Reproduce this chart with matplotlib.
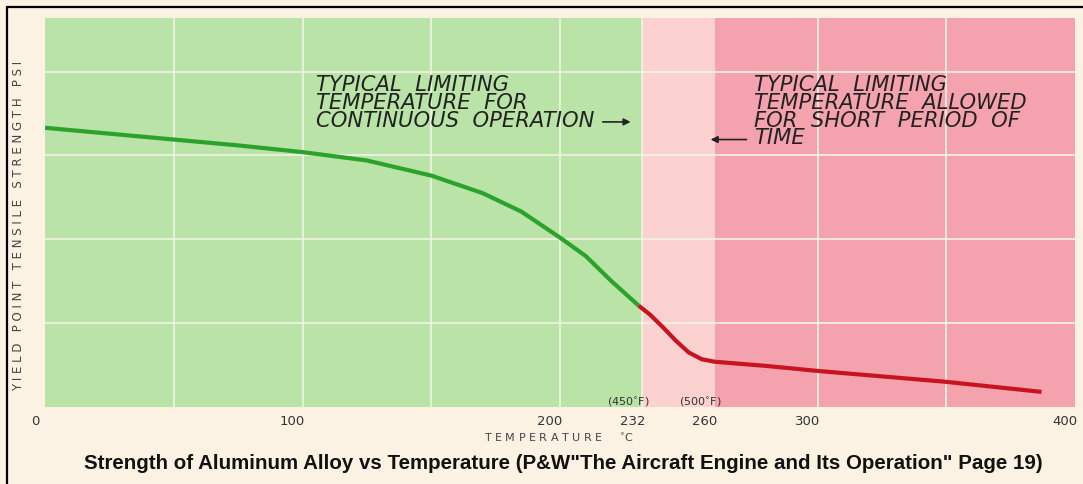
import numpy as np
import matplotlib
matplotlib.use("Agg")
import matplotlib.pyplot as plt
import matplotlib.transforms as mtransforms
from matplotlib.patches import Rectangle

# curve (temperature in C, strength in grid units)
temp_green = [0, 25, 50, 75, 100, 125, 150, 170, 185, 200, 210, 220, 230.5]
str_green = [3.33, 3.26, 3.19, 3.12, 3.04, 2.94, 2.76, 2.55, 2.33, 2.02, 1.80, 1.50, 1.21]
temp_red = [230.5, 235, 240, 245, 250, 255, 260, 280, 300, 350, 387]
str_red = [1.21, 1.10, 0.95, 0.79, 0.65, 0.57, 0.54, 0.49, 0.43, 0.30, 0.18]

zones = [(0, 232, '#b9e3a7'), (232, 260, '#fbd2d0'), (260, 400, '#f4a3ae')]
grid_x = [50, 100, 150, 200, 232, 300, 350]
grid_y = [1, 2, 3, 4]
xticks = [0, 100, 200, 232, 260, 300, 400]
xticklabels = ['0', '100', '200', '232', '260', '300', '400']
f_labels = [(232, '(450$^{\\circ}$F)'), (260, '(500$^{\\circ}$F)')]

bg = '#fcf2e4'
fig = plt.figure(figsize=(10.83, 4.85), dpi=100, facecolor=bg)
ax = fig.add_axes([0.0416, 0.1588, 0.9510, 0.8021])
ax.set_facecolor(bg)

for a, b, c in zones:
    ax.axvspan(a, b, color=c, lw=0, zorder=0)
for gx in grid_x:
    ax.axvline(gx, color='#f1f4e4', lw=1.2, zorder=1)
for gy in grid_y:
    ax.axhline(gy, color='#f1f4e4', lw=1.2, zorder=1)

ax.plot(temp_green, str_green, color='#2ba32b', lw=3.0, solid_capstyle='butt', zorder=3)
ax.plot(temp_red, str_red, color='#c8141e', lw=3.0, solid_capstyle='butt', zorder=3)

ax.set_xlim(0, 400)
ax.set_ylim(0, 4.64)
for s in ax.spines.values():
    s.set_visible(False)
ax.set_yticks([])
ax.set_xticks(xticks)
ax.set_xticklabels(xticklabels, fontsize=9.5, color='#333333')
ax.tick_params(axis='x', length=0, pad=5)
shift = mtransforms.ScaledTranslation(-10 / 100, 0, fig.dpi_scale_trans)
for lab in ax.get_xticklabels():
    lab.set_transform(lab.get_transform() + shift)

fshift = mtransforms.ScaledTranslation(-14 / 100, 0, fig.dpi_scale_trans)
for x, t in f_labels:
    ax.text(x, 0.013, t, transform=ax.get_xaxis_transform() + fshift, ha='center',
            va='center', fontsize=8, color='#333333', zorder=4)

# hand lettered notes
note_kw = dict(fontsize=15.2, style='italic', color='#222222', va='top', ha='left',
               linespacing=0.86, family='DejaVu Sans')
ax.text(105.2, 3.97, 'TYPICAL  LIMITING\nTEMPERATURE  FOR\nCONTINUOUS  OPERATION', **note_kw)
ax.text(275.2, 3.97, 'TYPICAL  LIMITING\nTEMPERATURE  ALLOWED\nFOR  SHORT  PERIOD  OF\nTIME', **note_kw)
ax.annotate('', xy=(228.5, 3.40), xytext=(215.5, 3.40),
            arrowprops=dict(arrowstyle='-|>', color='#222222', lw=1.2, mutation_scale=10))
ax.annotate('', xy=(257.4, 3.19), xytext=(273.5, 3.19),
            arrowprops=dict(arrowstyle='-|>', color='#222222', lw=1.2, mutation_scale=10))

ylab = '   '.join(' '.join(w) for w in 'YIELD POINT TENSILE STRENGTH'.split()) + '   P S I'
fig.text(0.0175, 0.534, ylab, rotation=90, ha='center', va='center', fontsize=8.5,
         color='#444444')
fig.text(0.516, 0.098, 'T E M P E R A T U R E     $^{\\circ}$C', ha='center', va='center',
         fontsize=8, color='#444444')

fig.text(0.52, 0.045, 'Strength of Aluminum Alloy vs Temperature (P&W"The Aircraft Engine and Its Operation" Page 19)',
         ha='center', va='center', fontsize=14.8, fontweight='bold', family='Liberation Sans',
         color='#111111')

# black frame of the scan
fig.patches.append(Rectangle((7 / 1083, -0.1), 1.2, 1 - 8 / 485 + 0.1, transform=fig.transFigure,
                             fill=False, ec='black', lw=1.6))

fig.savefig('out.png', dpi=100, facecolor=bg)
